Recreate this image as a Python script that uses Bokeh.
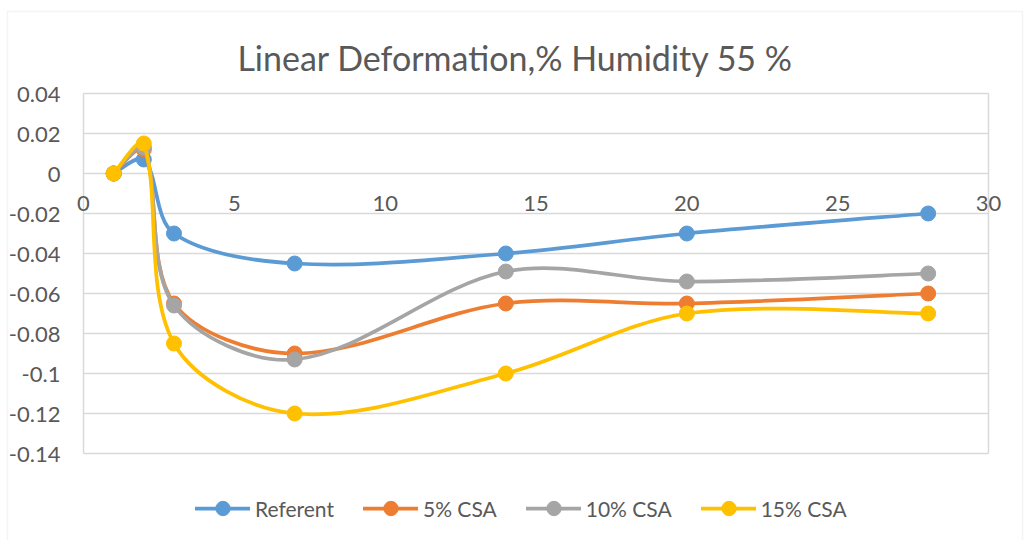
import math
from bokeh.plotting import figure
from bokeh.models import Range1d, Legend, LegendItem, ColumnDataSource, LabelSet, Label, BoxAnnotation
from bokeh.core.properties import value
from bokeh.embed import file_html
from bokeh.resources import INLINE

# ---------------- data ----------------
days = [1, 2, 3, 7, 14, 20, 28]
referent = [0, 0.007, -0.03, -0.045, -0.04, -0.03, -0.02]
csa5 = [0, 0.012, -0.065, -0.09, -0.065, -0.065, -0.06]
csa10 = [0, 0.013, -0.066, -0.093, -0.049, -0.054, -0.05]
csa15 = [0, 0.015, -0.085, -0.12, -0.1, -0.07, -0.07]
series_names = ["Referent", "5% CSA", "10% CSA", "15% CSA"]
series_colors = ["#5B9BD5", "#ED7D31", "#A5A5A5", "#FFC000"]
x_ticks = [0, 5, 10, 15, 20, 25, 30]
x_tick_labels = ["0", "5", "10", "15", "20", "25", "30"]
y_ticks = [0.04, 0.02, 0, -0.02, -0.04, -0.06, -0.08, -0.1, -0.12, -0.14]
y_tick_labels = ["0.04", "0.02", "0", "-0.02", "-0.04", "-0.06", "-0.08", "-0.1", "-0.12", "-0.14"]
title_text = "Linear Deformation,% Humidity 55 %"

TEXT = "#595959"
GRID = "#d9d9d9"
FONT = "Lato"

W, H = 1025, 540
BL, BR, BT = 83, 37, 93          # px around the value area
PLOT_H = 360                     # px height of the value area
X0, X1 = x_ticks[0], x_ticks[-1]
Y0, Y1 = y_ticks[-1], y_ticks[0]
sx = (W - BL - BR) / (X1 - X0)   # px per x unit
sy = PLOT_H / (Y1 - Y0)          # px per y unit


def smooth_segments(xs, ys):
    """Excel-like smoothed line: cubic Bezier segments with length-weighted tangents."""
    n = len(xs)
    d = dict(x0=[], y0=[], x1=[], y1=[], cx0=[], cy0=[], cx1=[], cy1=[])

    def dist(i, j):
        return math.hypot((xs[j] - xs[i]) * sx, (ys[j] - ys[i]) * sy)

    for i in range(n - 1):
        ip = max(i - 1, 0)
        inn = min(i + 2, n - 1)
        d_prev = dist(ip, i)
        d_cur = dist(i, i + 1)
        d_next = dist(i + 1, inn)
        f0 = d_cur / (d_prev + d_cur) / 3.0 if d_prev > 0 else 1 / 6.0
        f1 = d_cur / (d_cur + d_next) / 3.0 if d_next > 0 else 1 / 6.0
        d["x0"].append(xs[i]); d["y0"].append(ys[i])
        d["x1"].append(xs[i + 1]); d["y1"].append(ys[i + 1])
        d["cx0"].append(xs[i] + (xs[i + 1] - xs[ip]) * f0)
        d["cy0"].append(ys[i] + (ys[i + 1] - ys[ip]) * f0)
        d["cx1"].append(xs[i + 1] - (xs[inn] - xs[i]) * f1)
        d["cy1"].append(ys[i + 1] - (ys[inn] - ys[i]) * f1)
    return d


# the frame spans the whole canvas; the value area sits inside it
p = figure(
    width=W, height=H,
    output_backend="svg", toolbar_location=None,
    x_range=Range1d(X0 - BL / sx, X1 + BR / sx),
    y_range=Range1d(Y1 - (H - BT) / sy, Y1 + BT / sy),
    min_border=0,
)
p.outline_line_color = None
p.background_fill_color = "white"
p.border_fill_color = "white"
p.xaxis.visible = False
p.yaxis.visible = False
p.xgrid.visible = False
p.ygrid.visible = False

# chart border
p.add_layout(BoxAnnotation(left=7, right=1022, top=H - 11, bottom=-20,
                           left_units="screen", right_units="screen",
                           top_units="screen", bottom_units="screen",
                           fill_alpha=0, line_color=GRID, line_width=1.5))

# title
p.add_layout(Label(x=515, y=H - 57, x_units="screen", y_units="screen", text=title_text,
                   text_align="center", text_baseline="middle",
                   text_font=FONT, text_font_size="34px", text_color=TEXT))

# gridlines and plot-area edges
n_y = len(y_ticks)
p.segment(x0=[X0] * n_y, y0=y_ticks, x1=[X1] * n_y, y1=y_ticks,
          line_color=GRID, line_width=1.5)
p.segment(x0=[X0, X1], y0=[Y0, Y0], x1=[X0, X1], y1=[Y1, Y1],
          line_color=GRID, line_width=1.5)

# tick labels
xlab_src = ColumnDataSource(dict(x=x_ticks, y=[0] * len(x_ticks), t=x_tick_labels))
p.add_layout(LabelSet(x="x", y="y", text="t", source=xlab_src, y_offset=-30,
                      text_align="center", text_baseline="middle",
                      text_font=value(FONT), text_font_size="22px", text_color=TEXT))
ylab_src = ColumnDataSource(dict(x=[X0] * n_y, y=y_ticks, t=y_tick_labels))
p.add_layout(LabelSet(x="x", y="y", text="t", source=ylab_src, x_offset=-23, y_offset=-1,
                      text_align="right", text_baseline="middle",
                      text_font=value(FONT), text_font_size="22px", text_color=TEXT))

# series
items = []
for name, ys, col in zip(series_names, [referent, csa5, csa10, csa15], series_colors):
    seg = ColumnDataSource(smooth_segments(days, ys))
    r_line = p.bezier(x0="x0", y0="y0", x1="x1", y1="y1", cx0="cx0", cy0="cy0",
                      cx1="cx1", cy1="cy1", source=seg, line_color=col,
                      line_width=3.75, line_cap="round")
    r_pts = p.scatter(days, ys, marker="circle", size=15, fill_color=col, line_color=col)
    items.append(LegendItem(label=name, renderers=[r_line, r_pts]))

legend = Legend(
    items=items, orientation="horizontal", location=(195, 14),
    glyph_width=55, glyph_height=36, label_standoff=5, spacing=29,
    padding=0, margin=0, border_line_color=None, background_fill_alpha=0,
    label_text_font=FONT, label_text_font_size="21px", label_text_color=TEXT,
)
p.add_layout(legend, "center")

open("out.html", "w").write(file_html(p, INLINE))
